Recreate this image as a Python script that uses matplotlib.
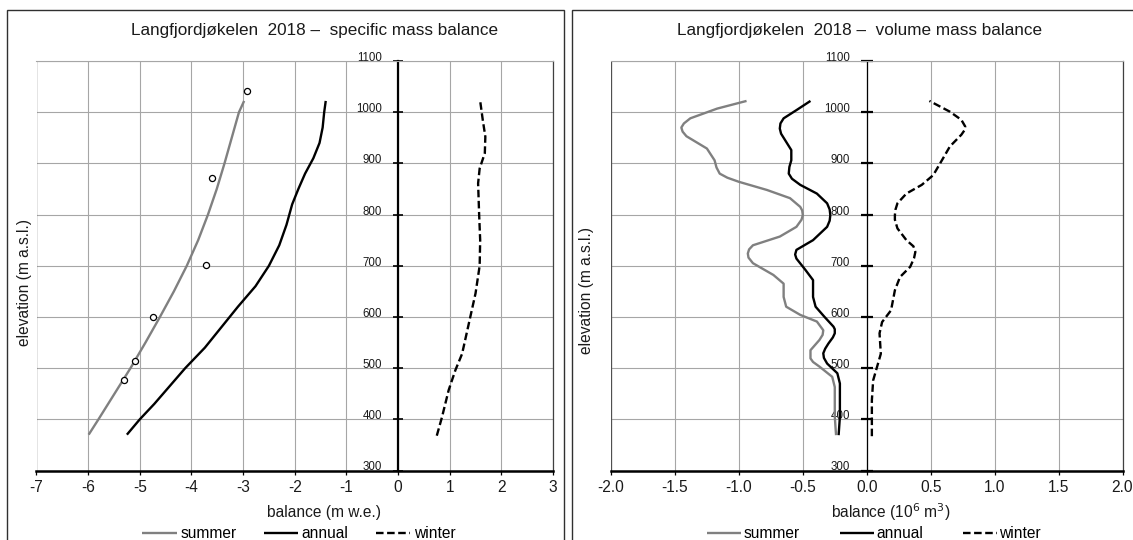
import matplotlib
matplotlib.use("Agg")
import matplotlib.pyplot as plt
from matplotlib.patches import Rectangle

plt.rcParams['font.family'] = ['Liberation Sans', 'DejaVu Sans']

# ---------------- data ----------------
# specific mass balance (m w.e.)
spec_summer_elev = [370, 400, 450, 500, 550, 600, 650, 700, 750, 800, 850, 900, 950, 1000, 1022]
spec_summer = [-5.99, -5.80, -5.49, -5.18, -4.89, -4.61, -4.34, -4.09, -3.87, -3.68, -3.51, -3.36, -3.22, -3.08, -2.98]

spec_annual_elev = [370, 400, 430, 465, 500, 540, 580, 620, 660, 700, 740, 780, 820, 850, 880, 910, 940, 970, 1000, 1022]
spec_annual = [-5.25, -5.00, -4.72, -4.42, -4.12, -3.74, -3.42, -3.10, -2.76, -2.50, -2.30, -2.16, -2.05, -1.93, -1.80, -1.64, -1.52, -1.46, -1.43, -1.40]

spec_winter_elev = [368, 404, 457, 496, 528, 587, 646, 700, 750, 800, 861, 890, 920, 952, 985, 1022]
spec_winter = [0.75, 0.85, 0.98, 1.11, 1.24, 1.37, 1.50, 1.58, 1.59, 1.57, 1.55, 1.58, 1.68, 1.69, 1.64, 1.59]

obs_elev = [476, 514, 600, 702, 871, 1042]
obs_summer = [-5.30, -5.09, -4.74, -3.72, -3.60, -2.92]

# volume mass balance (10^6 m3)
vol_summer_elev = [369, 405, 463, 483, 503, 512, 519, 535, 555, 565, 574, 591, 604, 620, 639, 665, 682,
                   705, 716, 724, 732, 740, 757, 776, 790, 799, 808, 815, 832, 848, 864, 872, 880, 892,
                   906, 929, 953, 962, 970, 978, 988, 1007, 1022]
vol_summer = [-0.24, -0.25, -0.25, -0.27, -0.37, -0.42, -0.44, -0.44, -0.37, -0.345, -0.34, -0.39, -0.52,
              -0.63, -0.65, -0.65, -0.73, -0.89, -0.925, -0.93, -0.92, -0.89, -0.68, -0.55, -0.51, -0.50,
              -0.505, -0.52, -0.60, -0.78, -1.00, -1.09, -1.15, -1.175, -1.19, -1.25, -1.41, -1.44, -1.45,
              -1.43, -1.38, -1.17, -0.94]

vol_annual_elev = [369, 405, 470, 490, 509, 520, 529, 538, 548, 560, 568, 576, 581, 600, 620, 639, 672,
                   692, 714, 722, 731, 750, 776, 788, 799, 810, 822, 841, 858, 870, 880, 893, 906, 926, 946,
                   958, 968, 978, 988, 1004, 1022]
vol_annual = [-0.22, -0.21, -0.21, -0.23, -0.31, -0.335, -0.34, -0.325, -0.30, -0.265, -0.25, -0.25,
              -0.26, -0.33, -0.40, -0.42, -0.42, -0.48, -0.55, -0.56, -0.55, -0.42, -0.31, -0.29, -0.285,
              -0.29, -0.31, -0.39, -0.52, -0.585, -0.61, -0.605, -0.59, -0.59, -0.64, -0.67, -0.68, -0.675,
              -0.65, -0.55, -0.44]

vol_winter_elev = [367, 398, 437, 476, 502, 528, 568, 590, 613, 652, 678, 698, 715, 727, 738, 750, 773,
                   790, 799, 810, 822, 841, 858, 877, 907, 933, 956, 965, 972, 985, 1001, 1022]
vol_winter = [0.04, 0.04, 0.04, 0.05, 0.08, 0.11, 0.10, 0.12, 0.19, 0.22, 0.26, 0.34, 0.37, 0.38, 0.365,
              0.31, 0.24, 0.22, 0.22, 0.225, 0.24, 0.31, 0.43, 0.52, 0.59, 0.65, 0.74, 0.765, 0.77, 0.74,
              0.65, 0.49]

left_xticks = [-7, -6, -5, -4, -3, -2, -1, 0, 1, 2, 3]
right_xticks = [-2.0, -1.5, -1.0, -0.5, 0.0, 0.5, 1.0, 1.5, 2.0]
yticks = [300, 400, 500, 600, 700, 800, 900, 1000, 1100]

# ---------------- layout ----------------
W, H = 1133, 540
fig = plt.figure(figsize=(W / 100, H / 100), dpi=100)

def fx(px):
    return px / W

def fy(py):
    return 1 - py / H

ax_top, ax_bot = 61, 470.5
ax1 = fig.add_axes([fx(36.5), fy(ax_bot), fx(553 - 36.5), (ax_bot - ax_top) / H])
ax2 = fig.add_axes([fx(611), fy(ax_bot), fx(1122.5 - 611), (ax_bot - ax_top) / H])

# panel frames
fig.add_artist(Rectangle((fx(7), -0.1), fx(563.7 - 7), fy(10) + 0.1, transform=fig.transFigure,
                         fill=False, edgecolor='#303030', lw=1.0))
fig.add_artist(Rectangle((fx(572.3), -0.1), fx(700), fy(10) + 0.1, transform=fig.transFigure,
                         fill=False, edgecolor='#303030', lw=1.0))

GRID = '#a6a6a6'
GRAY = '#808080'
TXT = '#1a1a1a'
LW = 1.7
DASH = (0, (3.2, 1.5))
FS = 11.2


def style(ax, xlim, xticks, xfmt, spine_lw, tick_len, tick_w):
    ax.set_xlim(*xlim)
    ax.set_ylim(300, 1100)
    ax.set_xticks(xticks)
    ax.set_xticklabels([xfmt(v) for v in xticks])
    ax.set_yticks(yticks)
    ax.set_yticklabels([str(v) for v in yticks])
    ax.grid(True, color=GRID, lw=0.8)
    ax.set_axisbelow(True)
    ax.spines['left'].set_position(('data', 0))
    ax.spines['left'].set_color('black')
    ax.spines['left'].set_linewidth(spine_lw)
    ax.spines['left'].set_zorder(2.5)
    ax.spines['top'].set_color(GRID)
    ax.spines['top'].set_linewidth(0.8)
    ax.spines['right'].set_color('#404040')
    ax.spines['right'].set_linewidth(0.9)
    ax.spines['bottom'].set_color('black')
    ax.spines['bottom'].set_linewidth(1.8)
    ax.tick_params(axis='y', direction='inout', length=tick_len, width=tick_w,
                   pad=7.6, labelsize=8.3, colors='black', labelcolor=TXT)
    ax.tick_params(axis='x', direction='out', length=3, width=0.9, pad=3.5,
                   labelsize=FS, labelcolor=TXT)
    for lab in ax.get_yticklabels():
        lab.set_verticalalignment('baseline')
    ax.axvline(xlim[0], color='#505050', lw=0.9, zorder=1.5)


style(ax1, (-7, 3), left_xticks, lambda v: f"{v:d}", 1.6, 7.5, 1.2)
style(ax2, (-2, 2), right_xticks, lambda v: f"{v:.1f}", 0.9, 8.6, 1.6)

# ---------------- lines ----------------
kw = dict(lw=LW, solid_joinstyle='round', solid_capstyle='butt')
l1, = ax1.plot(spec_summer, spec_summer_elev, color=GRAY, label='summer', **kw)
l2, = ax1.plot(spec_annual, spec_annual_elev, color='black', label='annual', **kw)
l3, = ax1.plot(spec_winter, spec_winter_elev, color='black', lw=LW, ls=DASH, label='winter')
ax1.plot(obs_summer, obs_elev, ls='none', marker='o', ms=4.4, mfc='white', mec='black', mew=0.9, zorder=4)

r1, = ax2.plot(vol_summer, vol_summer_elev, color=GRAY, label='summer', **kw)
r2, = ax2.plot(vol_annual, vol_annual_elev, color='black', label='annual', **kw)
r3, = ax2.plot(vol_winter, vol_winter_elev, color='black', lw=LW, ls=DASH, label='winter')

# ---------------- texts ----------------
fig.text(fx(315), fy(31), "Langfjordjøkelen  2018 –  specific mass balance", ha='center', va='center', fontsize=12.3, color=TXT)
fig.text(fx(860), fy(31), "Langfjordjøkelen  2018 –  volume mass balance", ha='center', va='center', fontsize=12.3, color=TXT)

fig.text(fx(324), fy(512), "balance (m w.e.)", ha='center', va='center', fontsize=FS, color=TXT)
fig.text(fx(890.6), fy(512), "balance (10$^{6}$ m$^{3}$)", ha='center', va='center', fontsize=FS, color=TXT)

fig.text(fx(24), fy(283), "elevation (m a.s.l.)", ha='center', va='center', rotation=90, fontsize=FS, color=TXT)
fig.text(fx(587), fy(290), "elevation (m a.s.l.)", ha='center', va='center', rotation=90, fontsize=FS, color=TXT)

for ax, handles, cx, cs, tp in ((ax1, [l1, l2, l3], 299, 1.75, 0.25), (ax2, [r1, r2, r3], 874, 2.55, 0.15)):
    ax.legend(handles, [h.get_label() for h in handles], ncol=3, loc='center',
              bbox_to_anchor=(fx(cx), fy(534)), bbox_transform=fig.transFigure,
              frameon=False, fontsize=FS, handlelength=2.2, handletextpad=tp,
              columnspacing=cs, borderpad=0, borderaxespad=0)

fig.savefig("out.png", dpi=100)
